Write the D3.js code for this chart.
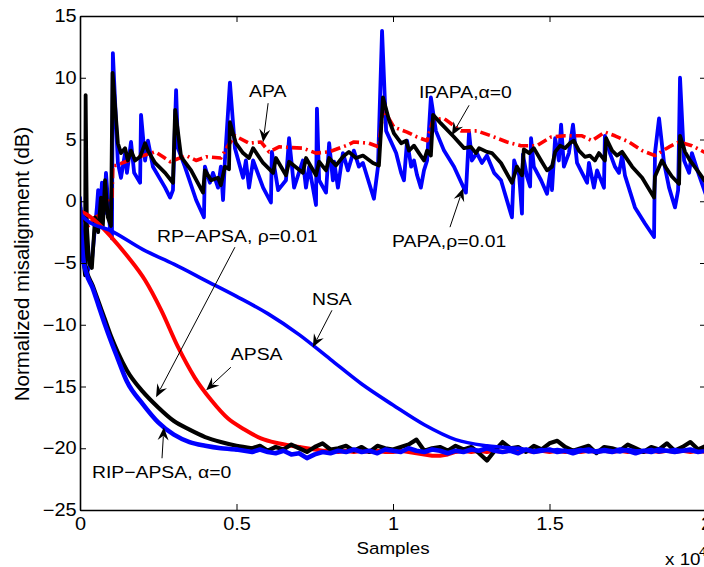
<!DOCTYPE html>
<html>
<head>
<meta charset="utf-8">
<script src="https://cdn.jsdelivr.net/npm/d3@7"></script>
<style>
  html, body { margin: 0; padding: 0; background: #fff; overflow: hidden; }
  svg { display: block; font-family: "Liberation Sans", Arial, Helvetica, sans-serif; }
</style>
</head>
<body>
<svg id="chart" width="704" height="567"></svg>
<script>
/* ============================================================
   Normalized misalignment vs samples (x in units of 1e4)
   ============================================================ */

const X_TICKS = [0, 0.5, 1, 1.5, 2];
const Y_TICKS = [-25, -20, -15, -10, -5, 0, 5, 10, 15];

// upper group : tracking algorithms (spiky)
const papa = [[0,0.3],[0.010,-4.8],[0.022,-5.8],[0.038,-4.8],[0.054,-0.5],[0.058,0.9],[0.064,-1.5],[0.070,1.5],[0.077,-1.0],[0.083,2.3],[0.096,-2.3],[0.102,-3.0],[0.105,12.0],[0.121,3.1],[0.131,1.9],[0.144,3.9],[0.150,2.3],[0.163,4.8],[0.173,2.3],[0.192,1.5],[0.195,7.0],[0.208,3.3],[0.217,4.9],[0.233,2.8],[0.272,1.1],[0.288,0.3],[0.297,0.9],[0.307,9.0],[0.313,4.3],[0.335,2.8],[0.371,0.1],[0.396,-1.3],[0.399,2.8],[0.415,1.5],[0.425,2.3],[0.441,1.1],[0.450,2.8],[0.457,0.1],[0.463,3.3],[0.479,9.6],[0.495,4.3],[0.521,1.9],[0.530,3.3],[0.540,1.1],[0.553,3.3],[0.585,1.1],[0.610,-0.1],[0.613,4.0],[0.633,0.9],[0.658,1.7],[0.668,5.1],[0.684,1.1],[0.712,3.3],[0.722,1.1],[0.732,2.8],[0.754,-0.3],[0.757,7.5],[0.764,1.7],[0.786,0.7],[0.796,4.7],[0.808,1.7],[0.812,3.2],[0.824,1.1],[0.840,3.9],[0.856,2.5],[0.875,4.1],[0.891,2.8],[0.904,3.1],[0.939,0.2],[0.952,2.8],[0.965,13.8],[0.978,5.7],[1.010,3.9],[1.026,2.3],[1.035,1.7],[1.045,4.9],[1.058,2.8],[1.067,3.3],[1.077,2.1],[1.089,1.1],[1.099,2.5],[1.109,3.3],[1.121,8.4],[1.137,5.7],[1.163,4.1],[1.195,2.8],[1.233,0.7],[1.243,5.6],[1.252,3.3],[1.268,3.9],[1.284,3.1],[1.300,3.7],[1.323,2.3],[1.345,1.7],[1.380,-1.3],[1.387,3.3],[1.403,2.1],[1.412,-1.0],[1.415,3.8],[1.428,2.0],[1.438,1.2],[1.441,5.1],[1.450,2.8],[1.473,1.7],[1.492,0.6],[1.505,2.8],[1.508,0.9],[1.518,5.1],[1.530,3.3],[1.537,6.2],[1.546,2.8],[1.562,3.9],[1.575,6.2],[1.588,3.1],[1.604,2.3],[1.620,1.5],[1.626,3.1],[1.642,1.1],[1.652,2.5],[1.674,1.1],[1.677,5.3],[1.693,3.9],[1.709,2.8],[1.722,2.3],[1.732,3.7],[1.741,2.1],[1.773,-0.5],[1.805,-1.8],[1.834,-2.9],[1.837,3.9],[1.850,6.7],[1.866,3.1],[1.882,1.1],[1.901,-0.5],[1.911,0.9],[1.917,10.0],[1.930,3.3],[1.946,2.3],[1.955,3.9],[1.978,2.1],[2.000,0.5]];

const apa = [[0,-1.0],[0.026,-2.0],[0.048,-1.3],[0.073,-1.0],[0.089,0.3],[0.102,0.0],[0.105,2.9],[0.115,2.9],[0.176,3.5],[0.240,4.0],[0.265,3.6],[0.288,3.2],[0.339,3.7],[0.371,3.3],[0.403,3.6],[0.450,3.5],[0.473,4.5],[0.495,5.3],[0.540,4.7],[0.578,4.8],[0.604,4.0],[0.636,4.4],[0.712,4.3],[0.754,3.9],[0.796,4.0],[0.850,4.5],[0.875,4.8],[0.923,4.7],[0.955,4.4],[0.968,7.5],[1.003,6.0],[1.045,5.6],[1.077,5.2],[1.109,4.9],[1.128,6.6],[1.163,6.7],[1.217,5.7],[1.268,5.7],[1.313,5.3],[1.364,4.8],[1.409,4.5],[1.460,4.5],[1.505,5.2],[1.550,5.3],[1.604,5.3],[1.636,4.9],[1.677,5.6],[1.709,5.3],[1.754,4.8],[1.796,4.1],[1.837,3.7],[1.882,4.4],[1.914,4.8],[1.955,4.5],[2.000,3.9]];

const ipapa = [[0,-1.0],[0.010,-4.5],[0.016,-6.0],[0.018,8.6],[0.022,-2.0],[0.029,-5.0],[0.038,-5.4],[0.048,-1.3],[0.058,-2.5],[0.067,0.3],[0.073,-2.0],[0.080,1.7],[0.089,-1.3],[0.099,-2.0],[0.104,10.4],[0.121,4.7],[0.131,3.9],[0.144,4.3],[0.153,3.3],[0.163,4.1],[0.176,3.3],[0.192,3.6],[0.208,4.7],[0.217,4.1],[0.240,3.1],[0.272,2.3],[0.297,1.5],[0.304,7.4],[0.323,3.6],[0.355,2.5],[0.393,0.7],[0.399,2.5],[0.419,1.7],[0.441,1.9],[0.450,1.3],[0.463,2.8],[0.476,2.6],[0.479,6.4],[0.498,4.7],[0.521,3.9],[0.540,3.5],[0.553,4.3],[0.585,3.1],[0.617,2.3],[0.626,3.5],[0.658,2.1],[0.668,3.2],[0.712,2.3],[0.722,3.5],[0.754,2.1],[0.764,3.2],[0.786,2.5],[0.796,3.5],[0.818,2.9],[0.840,3.6],[0.859,4.0],[0.882,3.5],[0.904,3.7],[0.936,3.1],[0.955,2.9],[0.968,8.4],[0.987,6.6],[1.003,5.5],[1.026,4.7],[1.042,4.9],[1.051,4.1],[1.067,4.5],[1.083,3.9],[1.099,3.3],[1.109,4.1],[1.121,3.7],[1.128,7.0],[1.153,6.3],[1.195,5.2],[1.227,4.3],[1.249,4.4],[1.265,3.9],[1.275,4.3],[1.300,4.0],[1.316,3.9],[1.345,3.1],[1.380,1.5],[1.396,2.8],[1.412,2.1],[1.418,4.2],[1.435,3.9],[1.450,4.3],[1.473,3.3],[1.492,2.5],[1.508,2.8],[1.518,4.0],[1.534,4.5],[1.550,4.3],[1.565,4.7],[1.578,4.9],[1.594,4.1],[1.613,3.6],[1.629,3.7],[1.645,3.3],[1.658,3.9],[1.677,3.3],[1.681,5.1],[1.700,4.1],[1.716,3.7],[1.732,4.0],[1.764,2.8],[1.796,1.9],[1.834,0.3],[1.837,2.0],[1.859,3.3],[1.875,2.6],[1.891,2.0],[1.914,1.4],[1.917,5.3],[1.933,4.0],[1.949,3.3],[1.978,2.3],[2.000,1.5]];

// lower group : converging algorithms (smooth head + noisy floor)
const nsaHead  = [[0,-1.0],[0.02,-1.5],[0.1,-2.4],[0.2,-3.9],[0.3,-5.1],[0.4,-6.4],[0.5,-7.7],[0.6,-9.1],[0.7,-10.8],[0.8,-12.8],[0.9,-14.8],[1.0,-16.5],[1.1,-18.1],[1.2,-19.3],[1.3,-19.8],[1.4,-20.0]];
const apsaHead = [[0,-0.8],[0.016,-1.0],[0.058,-1.8],[0.1,-2.9],[0.153,-4.5],[0.208,-6.4],[0.259,-8.8],[0.313,-11.8],[0.367,-14.3],[0.419,-16.1],[0.473,-17.6],[0.527,-18.5],[0.578,-19.2],[0.633,-19.6],[0.7,-19.9]];
const rpHead   = [[0,-0.5],[0.01,-4.0],[0.02,-5.5],[0.04,-6.8],[0.06,-8.2],[0.08,-9.6],[0.1,-11.0],[0.12,-12.2],[0.15,-13.7],[0.2,-15.4],[0.25,-16.7],[0.3,-17.8],[0.35,-18.5],[0.4,-19.1],[0.45,-19.5],[0.5,-19.8],[0.55,-20.0]];
const ripHead  = [[0,-0.5],[0.01,-4.6],[0.02,-5.8],[0.04,-7.0],[0.06,-8.5],[0.08,-10.0],[0.1,-11.4],[0.12,-12.7],[0.15,-14.6],[0.2,-16.4],[0.25,-17.9],[0.3,-18.9],[0.35,-19.5],[0.4,-19.8],[0.45,-20.0],[0.5,-20.1]];

// floor samples, right-aligned on this grid
const tailX = [0.525,0.55,0.575,0.6,0.625,0.65,0.675,0.7,0.725,0.75,0.775,0.8,0.825,0.85,0.875,0.9,0.925,0.95,0.975,1.0,1.025,1.05,1.075,1.1,1.125,1.15,1.175,1.2,1.225,1.25,1.275,1.3,1.325,1.35,1.375,1.4,1.425,1.45,1.475,1.5,1.525,1.55,1.575,1.6,1.625,1.65,1.675,1.7,1.725,1.75,1.775,1.8,1.825,1.85,1.875,1.9,1.925,1.95,1.975,2.0];
const ripTail = [-20.2,-20.3,-20.1,-20.3,-20.4,-20.2,-20.5,-20.4,-20.8,-20.5,
                 -20.3,-20.4,-20.2,-20.3,-20.1,-20.3,-20.2,-20.4,-20.1,-20.2,
                 -20.3,-20.0,-20.2,-20.3,-20.1,-20.2,-20.4,-20.2,-20.3,-20.1,
                 -20.2,-20.0,-20.2,-20.3,-20.2,-20.4,-20.1,-20.3,-20.2,-20.1,
                 -20.3,-20.2,-20.4,-20.2,-20.1,-20.3,-20.2,-20.3,-20.1,-20.2,
                 -20.4,-20.2,-20.3,-20.1,-20.2,-20.3,-20.2,-20.1,-20.3,-20.2];
const rpTail  = [-19.8,-20.2,-19.9,-20.1,-19.7,-20.0,-20.3,-19.9,-19.6,-20.1,
                 -20.0,-19.8,-20.2,-19.9,-20.3,-19.8,-20.0,-20.1,-19.9,-19.7,
                 -19.3,-20.2,-20.0,-19.9,-20.2,-19.8,-20.1,-19.9,-20.4,-21.0,
                 -20.2,-19.5,-20.0,-19.9,-20.3,-19.8,-20.1,-19.6,-19.4,-19.9,
                 -20.2,-20.0,-19.8,-20.4,-19.9,-20.0,-20.2,-19.7,-20.0,-20.3,
                 -19.9,-20.1,-19.6,-20.2,-19.9,-19.5,-20.1,-19.8];
const apsaTail = [-20.0,-20.1,-20.2,-20.2,-20.3,-20.2,-20.3,-20.2,-20.3,-20.2,
                  -20.3,-20.3,-20.2,-20.3,-20.4,-20.5,-20.6,-20.6,-20.5,-20.3,
                  -20.2,-20.3,-20.2,-20.3,-20.2,-20.3,-20.2,-20.3,-20.2,-20.3,
                  -20.2,-20.3,-20.2,-20.3,-20.2,-20.3,-20.2,-20.3,-20.2,-20.3,
                  -20.2,-20.3,-20.2,-20.3,-20.2,-20.3,-20.2,-20.3,-20.2,-20.3,
                  -20.2,-20.3];
const nsaTail = [-20.1,-20.2,-20.1,-20.2,-20.1,-20.2,-20.2,-20.1,-20.3,-20.2,
                 -20.1,-20.2,-20.3,-20.1,-20.2,-20.2,-20.1,-20.3,-20.2,-20.1,
                 -20.2,-20.2,-20.3,-20.2];

// annotations, in data units: text anchor (tx,ty), arrow from (fx,fy) to tip (ax,ay)
const NOTES = [
  { text: 'APA',               tx: 0.540, ty: 8.42,   fx: 0.601, fy: 7.94,   ax: 0.585, ay: 4.78 },
  { text: 'IPAPA,\u03b1=0',     tx: 1.083, ty: 8.34,   fx: 1.243, fy: 7.77,   ax: 1.188, ay: 5.34 },
  { text: 'PAPA,\u03c1=0.01',   tx: 0.997, ty: -3.72,  fx: 1.182, fy: -2.1,   ax: 1.224, ay: 1.05 },
  { text: 'RP\u2212APSA, \u03c1=0.01', tx: 0.246, ty: -3.32, fx: 0.495, fy: -3.72, ax: 0.243, ay: -15.87 },
  { text: 'APSA',              tx: 0.482, ty: -12.87, fx: 0.482, fy: -13.44, ax: 0.403, ay: -15.3 },
  { text: 'NSA',               tx: 0.741, ty: -8.42,  fx: 0.805, fy: -8.83,  ax: 0.744, ay: -11.82 },
  { text: 'RIP\u2212APSA, \u03b1=0', tx: 0.038, ty: -22.43, fx: 0.262, fy: -20.81, ax: 0.268, ay: -18.3 }
];

const SX = 1.14;      // glyphs in the picture are a bit wide
const FONT = 16.5;
const TICK_FONT = 17.5;

const svg = d3.select('#chart');
const M = { left: 80, top: 16, right: 706, bottom: 510 };

const x = d3.scaleLinear().domain([0, 2]).range([M.left, M.right]);
const y = d3.scaleLinear().domain([-25, 15]).range([M.bottom, M.top]);

function tailOf(head, tail) {
  const xs = tailX.slice(tailX.length - tail.length);
  return [head[head.length - 1]].concat(xs.map((v, i) => [v, tail[i]]));
}

svg.append('defs').append('clipPath').attr('id', 'plot-clip')
  .append('rect')
  .attr('x', M.left).attr('y', M.top)
  .attr('width', M.right - M.left).attr('height', M.bottom - M.top);

const plot = svg.append('g').attr('clip-path', 'url(#plot-clip)');

const lineSharp = d3.line().x(d => x(d[0])).y(d => y(d[1]));
const lineSmooth = d3.line().x(d => x(d[0])).y(d => y(d[1])).curve(d3.curveMonotoneX);

const SERIES = [
  { head: papa, color: '#0000ff', width: 3.8, sharp: true },
  { head: apa, color: '#ff0000', width: 3.6, sharp: true, dash: '10,4,2,4' },
  { head: ipapa, color: '#000000', width: 3.8, sharp: true },
  { head: apsaHead, tail: apsaTail, color: '#ff0000', width: 4 },
  { head: rpHead, tail: rpTail, color: '#000000', width: 4.2 },
  { head: ripHead, tail: ripTail, color: '#0000ff', width: 4.6 },
  { head: nsaHead, tail: nsaTail, color: '#0000ff', width: 3.6 }
];

function stroke(sel, s) {
  return sel
    .attr('fill', 'none')
    .attr('stroke', s.color)
    .attr('stroke-width', s.width)
    .attr('stroke-linejoin', 'round')
    .attr('stroke-linecap', s.dash ? 'butt' : 'round')
    .attr('stroke-dasharray', s.dash || null);
}

SERIES.forEach(s => {
  stroke(plot.append('path').attr('d', (s.sharp ? lineSharp : lineSmooth)(s.head)), s);
  if (s.tail) stroke(plot.append('path').attr('d', lineSharp(tailOf(s.head, s.tail))), s);
});

// Axes (MATLAB box, ticks inside)
const fmt = d3.format('');
const gx = svg.append('g').attr('transform', `translate(0,${M.bottom})`)
  .call(d3.axisBottom(x).tickValues(X_TICKS).tickFormat(fmt).tickSizeInner(-6).tickSizeOuter(0).tickPadding(8));
const gy = svg.append('g').attr('transform', `translate(${M.left},0)`)
  .call(d3.axisLeft(y).tickValues(Y_TICKS).tickFormat(fmt).tickSizeInner(-6).tickSizeOuter(0).tickPadding(3));
const gt = svg.append('g').attr('transform', `translate(0,${M.top})`)
  .call(d3.axisTop(x).tickValues(X_TICKS).tickFormat('').tickSizeInner(-6).tickSizeOuter(0));
const gr = svg.append('g').attr('transform', `translate(${M.right},0)`)
  .call(d3.axisRight(y).tickValues(Y_TICKS).tickFormat('').tickSizeInner(-6).tickSizeOuter(0));

[gx, gy, gt, gr].forEach(g => {
  g.select('.domain').attr('stroke-width', 1.6);
  g.selectAll('.tick line').attr('stroke-width', 1);
  g.selectAll('text')
    .attr('font-size', TICK_FONT)
    .attr('font-family', '"Liberation Sans", Arial, sans-serif')
    .attr('fill', '#000')
    .attr('transform', `scale(${SX},1)`);
});

function stretchedText(str, px, py, size, anchor) {
  return svg.append('text')
    .attr('transform', `translate(${px},${py}) scale(${SX},1)`)
    .attr('font-size', size)
    .attr('text-anchor', anchor || 'start')
    .attr('fill', '#000')
    .text(str);
}

// axis titles
stretchedText('Samples', x(1), 554, FONT, 'middle');
stretchedText('x 10', 665, 565, FONT, 'start');
stretchedText('4', 699, 556, 12, 'start');

svg.append('text')
  .attr('transform', `translate(29,${(M.top + M.bottom) / 2 + 1}) rotate(-90)`)
  .attr('font-size', 20.5)
  .attr('text-anchor', 'middle')
  .attr('fill', '#000')
  .text('Normalized misalignment (dB)');

// annotations
const ann = svg.append('g');
NOTES.forEach(n => {
  stretchedText(n.text, x(n.tx), y(n.ty), 17, 'start');
  const x1 = x(n.fx), y1 = y(n.fy), x2 = x(n.ax), y2 = y(n.ay);
  const ang = Math.atan2(y2 - y1, x2 - x1);
  const L = 13, W = 5.5;
  ann.append('line')
    .attr('x1', x1).attr('y1', y1)
    .attr('x2', x2 - Math.cos(ang) * L * 0.7).attr('y2', y2 - Math.sin(ang) * L * 0.7)
    .attr('stroke', '#000').attr('stroke-width', 1);
  ann.append('path')
    .attr('transform', `translate(${x2},${y2}) rotate(${ang * 180 / Math.PI})`)
    .attr('d', `M0,0L${-L},${-W}L${-0.65 * L},0L${-L},${W}Z`)
    .attr('fill', '#000');
});
</script>
</body>
</html>
